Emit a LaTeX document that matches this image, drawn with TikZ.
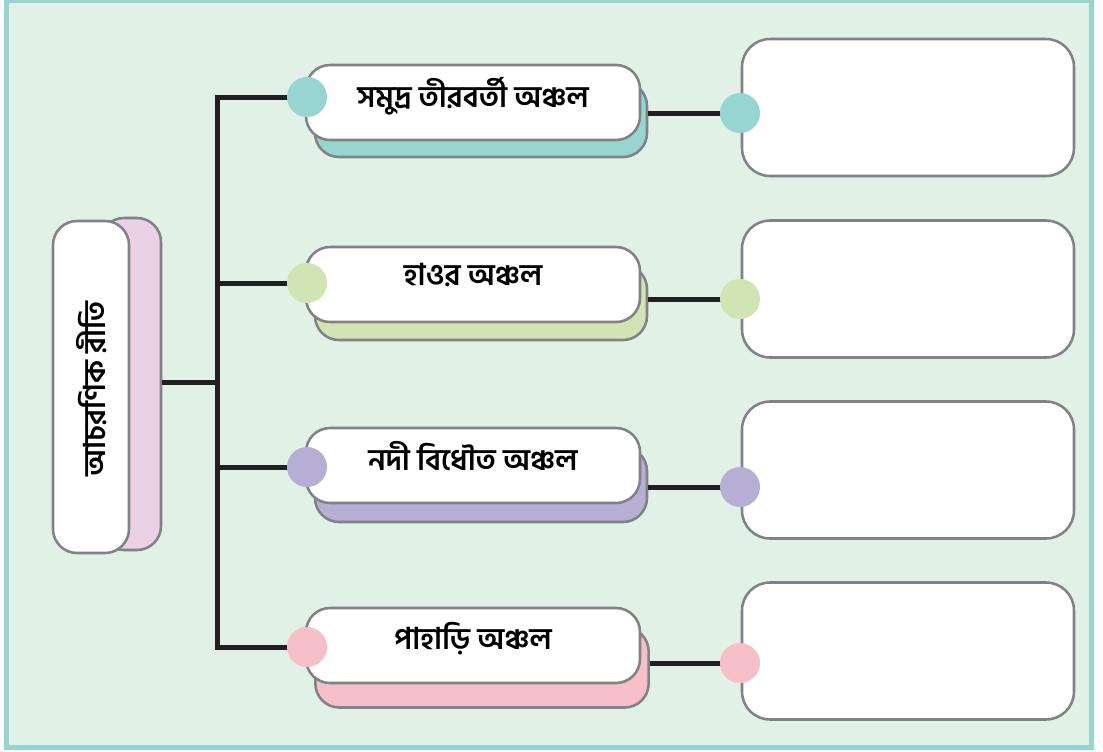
\documentclass[tikz,border=0pt]{standalone}
\usepackage{fontspec}
\newfontfamily\bn[Script=Bengali]{Hind Siliguri}
\definecolor{bgc}{HTML}{E1F1E6}
\definecolor{framec}{HTML}{97D5D1}
\definecolor{teal}{HTML}{97D5D1}
\definecolor{lgreen}{HTML}{D0E5B3}
\definecolor{lpurple}{HTML}{B7AED5}
\definecolor{lpink}{HTML}{F7BFC7}
\definecolor{rootpink}{HTML}{EBD1E6}
\definecolor{edgec}{HTML}{808285}
\definecolor{treec}{HTML}{231F20}
\newcommand{\up}[1]{\raisebox{15pt}{#1}}
\tikzset{
  box/.style={draw=edgec, line width=1.9pt, rounded corners=18pt, inner sep=0pt},
  labfont/.style={font=\bn\bfseries\fontsize{22.5}{26}\selectfont},
  frontbox/.style={box, fill=white, minimum width=250.5pt, minimum height=56.25pt, labfont},
  backbox/.style={box, minimum width=249pt, minimum height=56.25pt},
  ansbox/.style={box, fill=white, rounded corners=21pt, minimum width=249pt, minimum height=102.75pt},
  dot/.style={circle, inner sep=0pt, minimum size=30pt},
  tree/.style={draw=treec, line width=3.75pt},
}
\begin{document}
\begin{tikzpicture}[x=0.75pt,y=-0.75pt]
\useasboundingbox (0,0) rectangle (1103,751);
\fill[white] (0,0) rectangle (1103,751);
\draw[framec, fill=bgc, line width=3.75pt] (6.5,0.5) rectangle (1091.5,747.5);

% root
\node[box, fill=rootpink, minimum width=45.75pt, minimum height=249pt] (rootb) at (130.5,384) {};
\node[box, fill=white, minimum width=57pt, minimum height=249pt] (root) at (91,387) {};
\node[rotate=90, labfont] (roott) at (92,389) {আচরণিক রীতি};

% tree
\coordinate (jt) at (217,97);
\coordinate (jb) at (217,647);
\node[dot] (l1) at (307,97) {};
\node[dot] (l2) at (307,283) {};
\node[dot] (l3) at (307,467) {};
\node[dot] (l4) at (307,647) {};
\path[tree] (l1.center) -- (jt) -- (jb) -- (l4.center);
\path[tree] (l2.center) -- (l2.center -| jt);
\path[tree] (l3.center) -- (l3.center -| jt);
\path[tree] (rootb.east |- 0,382) -- (jt |- 0,382);

% right circles
\node[dot] (r1) at (740,113) {};
\node[dot] (r2) at (740,299) {};
\node[dot] (r3) at (740,487) {};
\node[dot] (r4) at (740,663) {};

% back boxes
\node[backbox, fill=teal] (b1) at (481,119.5) {};
\node[backbox, fill=lgreen] (b2) at (481,302.5) {};
\node[backbox, fill=lpurple] (b3) at (481,484.5) {};
\node[backbox, fill=lpink, minimum width=250pt, minimum height=60pt] (b4) at (482,667.5) {};

% connectors
\path[tree] (b1.east |- r1) -- (r1.center);
\path[tree] (b2.east |- r2) -- (r2.center);
\path[tree] (b3.east |- r3) -- (r3.center);
\path[tree] (b4.east |- r4) -- (r4.center);

% front boxes
\node[frontbox] (f1) at (473,102.5) {\up{সমুদ্র তীরবর্তী অঞ্চল}};
\node[frontbox] (f2) at (473,284.5) {\up{হাওর অঞ্চল}};
\node[frontbox] (f3) at (473,465.5) {\up{নদী বিধৌত অঞ্চল}};
\node[frontbox] (f4) at (473,645.5) {\up{পাহাড়ি অঞ্চল}};

% answer boxes
\node[ansbox] (a1) at (908,107.5) {};
\node[ansbox] (a2) at (908,289) {};
\node[ansbox] (a3) at (908,470) {};
\node[ansbox] (a4) at (908,651) {};

% dots on top
\fill[teal] (l1) circle (15pt);
\fill[lgreen] (l2) circle (15pt);
\fill[lpurple] (l3) circle (15pt);
\fill[lpink] (l4) circle (15pt);
\fill[teal] (r1) circle (15pt);
\fill[lgreen] (r2) circle (15pt);
\fill[lpurple] (r3) circle (15pt);
\fill[lpink] (r4) circle (15pt);
\end{tikzpicture}
\end{document}
